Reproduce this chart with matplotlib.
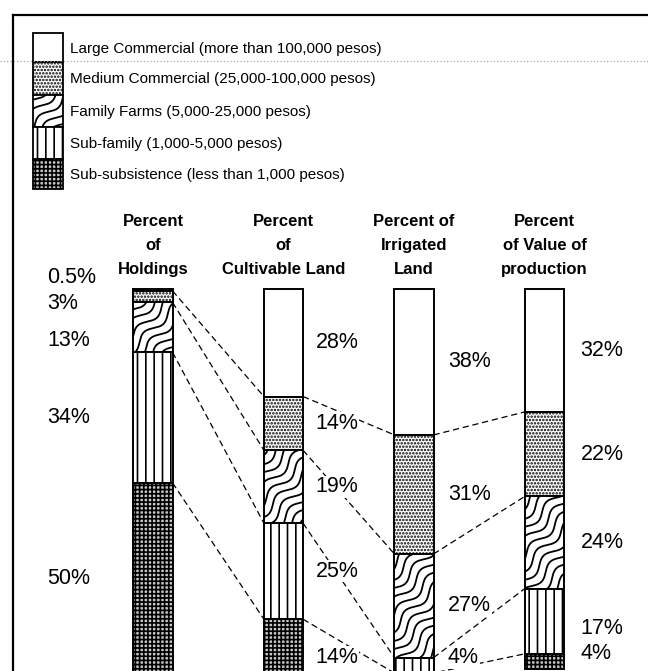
import numpy as np
import matplotlib
matplotlib.use("Agg")
import matplotlib.pyplot as plt
from matplotlib.patches import Rectangle

plt.rcParams['font.family'] = ['Liberation Sans', 'DejaVu Sans']
plt.rcParams['hatch.linewidth'] = 1.2

# --- data -------------------------------------------------------------
classes = ["Large Commercial (more than 100,000 pesos)",
           "Medium Commercial (25,000-100,000 pesos)",
           "Family Farms (5,000-25,000 pesos)",
           "Sub-family (1,000-5,000 pesos)",
           "Sub-subsistence (less than 1,000 pesos)"]
columns = ["Percent\nof\nHoldings",
           "Percent\nof\nCultivable Land",
           "Percent of\nIrrigated\nLand",
           "Percent\nof Value of\nproduction"]
holdings = [0.5, 3, 13, 34, 50]
cultivable = [28, 14, 19, 25, 14]
irrigated = [38, 31, 27, 4, 0]
value_prod = [32, 22, 24, 17, 4]
series = [holdings, cultivable, irrigated, value_prod]

# --- styles -----------------------------------------------------------
faces = ['white', 'white', 'white', 'white', '#c8c8c8']
hatches = [None, '.....', None, '||', '++++']

W, H = 648, 671
fig = plt.figure(figsize=(W / 100, H / 100), dpi=100)

# overlay in pixel coords (y down) for frame and legend
pax = fig.add_axes([0, 0, 1, 1])
pax.set_xlim(0, W)
pax.set_ylim(H, 0)
pax.axis('off')

# chart axes: x = column index, y = percent (down)
ax = fig.add_axes([0, 0, 1, 1])
ax.set_xlim(-153 / 130.5, (W - 153) / 130.5)
ax.set_ylim((H - 289) / 3.84, -289 / 3.84)
ax.axis('off')
ax.patch.set_alpha(0)

# frame and scan artefact
pax.plot([13, 13], [15, H], color='black', lw=1.6)
pax.plot([13, W], [15, 15], color='black', lw=1.6)
pax.plot([0, W], [61, 61], color='#999999', lw=0.8, ls=(0, (1, 2)))


def wavy(rect_px, target, spacing=9, amp=4, wl=40):
    # diagonal wavy texture clipped to a rectangle given in pixel coords
    x0, y0, w, h = rect_px
    n = np.array([1.0, 1.0]) / np.sqrt(2)
    u = np.array([1.0, -1.0]) / np.sqrt(2)
    cx, cy = x0 + w / 2, y0 + h / 2
    L = (w + h)
    s = np.linspace(-L, L, 400)
    clip = Rectangle((x0, y0), w, h, transform=pax.transData)
    for c in np.arange(-L, L, spacing):
        off = c + amp * np.sin(2 * np.pi * s / wl)
        px = cx + s * u[0] + off * n[0]
        py = cy + s * u[1] + off * n[1]
        ln, = target.plot(px, py, color='black', lw=1.3,
                          transform=pax.transData, zorder=2.5)
        ln.set_clip_path(clip)


# legend
sw_x, sw_w = 33, 30
row_tops = [33, 62, 95, 127, 159]
row_bots = [62, 95, 127, 159, 189]
for k, name in enumerate(classes):
    top, bot = row_tops[k], row_bots[k]
    r = Rectangle((sw_x, top), sw_w, bot - top, facecolor=faces[k],
                  edgecolor='black', lw=1.3, hatch=hatches[k])
    pax.add_patch(r)
    if k == 2:
        wavy((sw_x, top, sw_w, bot - top), pax)
    pax.text(70, (top + bot) / 2 + 1, name, fontsize=11, va='center', ha='left')

# bars
xs = np.arange(len(series))
width = 0.3
bw_px = width * 130.5
for i, vals in enumerate(series):
    bottom = 0
    for k, v in enumerate(vals):
        if v > 0:
            ax.bar(xs[i], v, bottom=bottom, width=width, color=faces[k],
                   edgecolor='black', lw=1.4, hatch=hatches[k], zorder=2)
            if k == 2:
                px0 = 153 + (xs[i] - width / 2) * 130.5
                py0 = 289 + bottom * 3.84
                wavy((px0, py0, bw_px, v * 3.84), ax)
        bottom += v

# dashed connectors between cumulative boundaries
for i in range(len(series) - 1):
    c1 = np.cumsum(series[i])[:4]
    c2 = np.cumsum(series[i + 1])[:4]
    for a, b in zip(c1, c2):
        ax.plot([xs[i] + width / 2, xs[i + 1] - width / 2], [a, b],
                color='black', lw=0.9, ls=(0, (5, 3)), zorder=1)

# column headings
for i, col in enumerate(columns):
    ax.text(xs[i], -11.2, col, ha='center', va='center', fontsize=12,
            fontweight='bold', linespacing=1.75)

# percent labels
label_dx = [-0.812, 0.245, 0.26, 0.276]
nudge = {(0, 0): -3.2, (0, 1): 1.9, (0, 2): 3.3,
         (1, 4): 3.0, (2, 3): -2.0, (3, 3): 2.0, (3, 4): -2.2}
for i, vals in enumerate(series):
    bottom = 0
    for k, v in enumerate(vals):
        if v > 0:
            y = bottom + v / 2 + nudge.get((i, k), 0)
            lbl = f"{v:g}%"
            ax.text(xs[i] + label_dx[i], y, lbl, ha='left', va='center',
                    fontsize=15.5, zorder=4,
                    bbox=dict(facecolor='white', edgecolor='none', pad=0.5)
                    if i > 0 else None)
        bottom += v

fig.savefig("out.png", dpi=100)
